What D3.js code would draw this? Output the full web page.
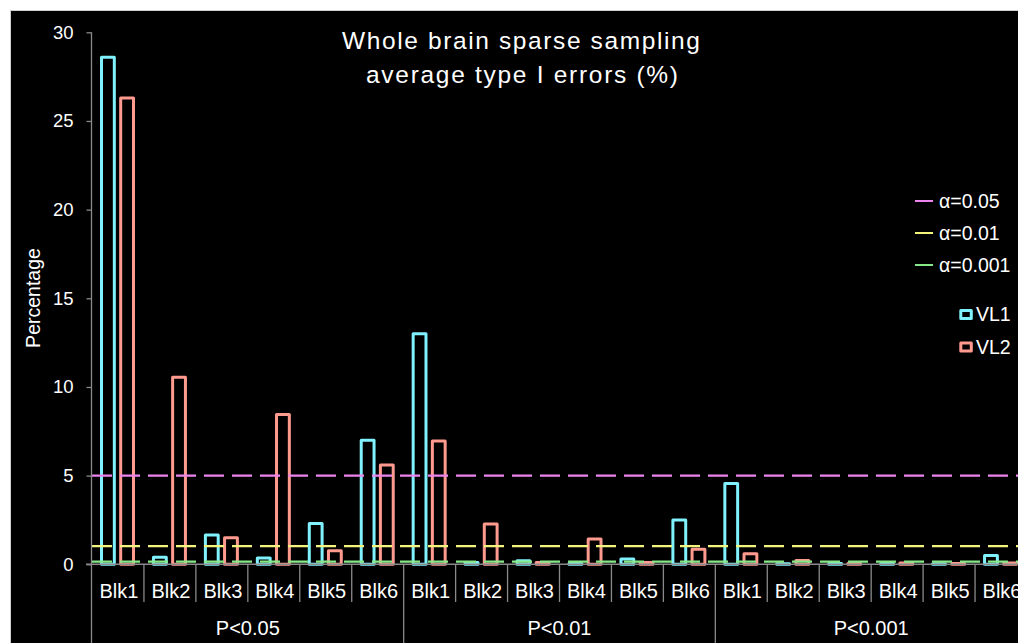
<!DOCTYPE html>
<html>
<head>
<meta charset="utf-8">
<script src="https://cdn.jsdelivr.net/npm/d3@7"></script>
<style>
  html, body { margin: 0; padding: 0; background: #ffffff; }
  svg { display: block; font-family: "Liberation Sans", Arial, sans-serif; }
</style>
</head>
<body>
<svg id="chart" width="1018" height="643"></svg>
<script>
// ---- data ----
const levels = ["P<0.05", "P<0.01", "P<0.001"];
const blocks = ["Blk1", "Blk2", "Blk3", "Blk4", "Blk5", "Blk6"];
const series = ["VL1", "VL2"];
const vl1 = [28.6, 0.4, 1.65, 0.35, 2.3, 7.0, 13.0, 0.1, 0.2, 0.05, 0.3, 2.5, 4.55, 0.03, 0.05, 0.05, 0.03, 0.5];
const vl2 = [26.3, 10.55, 1.5, 8.45, 0.77, 5.6, 6.95, 2.27, 0.1, 1.43, 0.1, 0.85, 0.6, 0.22, 0.05, 0.07, 0.05, 0.08];
const alphaLabels = ["α=0.05", "α=0.01", "α=0.001"];
const alphaValues = [5, 1.03, 0.15];
const yTicks = [0, 5, 10, 15, 20, 25, 30];
const titleLines = ["Whole brain sparse sampling", "average type I errors (%)"];

const seriesColors = { VL1: "#80f2ff", VL2: "#ff9a8e" };
const alphaColors = ["#ee84ee", "#f4f47c", "#86e886"];
const axisColor = "#8a8a8a";

const svg = d3.select("#chart");

// background panel
svg.append("rect").attr("x", 10.5).attr("y", 10.5).attr("width", 1020).attr("height", 640)
  .attr("fill", "#000").attr("stroke", "#cfcfcf").attr("stroke-width", 1);

// categories: each level x block
const cats = [];
levels.forEach(l => blocks.forEach(b => cats.push(l + "|" + b)));
const rows = cats.map((c, i) => ({ cat: c, level: c.split("|")[0], block: c.split("|")[1], VL1: vl1[i], VL2: vl2[i] }));

const x0 = d3.scaleBand().domain(cats).range([92, 1027]).padding(0);
const x1 = d3.scaleBand().domain(series).range([8, 43]).paddingInner(0.175).paddingOuter(0);
const y = d3.scaleLinear().domain([0, 30]).range([564.3, 32.3]);

// bars
const g = svg.append("g");
rows.forEach(r => {
  series.forEach(s => {
    const bx = x0(r.cat) + x1(s);
    g.append("rect")
      .attr("x", bx + 1.5)
      .attr("y", y(r[s]))
      .attr("width", x1.bandwidth() - 3)
      .attr("height", Math.max(0.01, y(0) - y(r[s])))
      .attr("fill", "none")
      .attr("stroke", seriesColors[s])
      .attr("stroke-width", 3)
      .attr("stroke-linejoin", "round");
  });
});

// alpha reference lines
alphaValues.forEach((v, i) => {
  svg.append("line")
    .attr("x1", 92).attr("x2", 1030)
    .attr("y1", y(v)).attr("y2", y(v))
    .attr("stroke", alphaColors[i]).attr("stroke-width", 2.2)
    .attr("stroke-dasharray", "20,8");
});

// y axis
const yAxis = d3.axisLeft(y).tickValues(yTicks).tickSize(5).tickPadding(13);
const ya = svg.append("g").attr("transform", "translate(91.5,0)").call(yAxis);
ya.select(".domain").remove();
ya.selectAll(".tick line").attr("stroke", axisColor).attr("stroke-width", 1.3);
ya.selectAll(".tick text").attr("fill", "#fff").attr("font-size", 18.5)
  .attr("font-family", "Liberation Sans, Arial, sans-serif");
svg.append("line").attr("x1", 91.5).attr("x2", 91.5).attr("y1", y(30)).attr("y2", 643)
  .attr("stroke", axisColor).attr("stroke-width", 1.3);

// x axis line
svg.append("line").attr("x1", 86).attr("x2", 1030).attr("y1", y(0)).attr("y2", y(0))
  .attr("stroke", axisColor).attr("stroke-width", 1.5);

// group separators
cats.forEach((c, i) => {
  const xs = x0(c);
  if (i === 0) return;
  const major = i % blocks.length === 0;
  svg.append("line").attr("x1", xs).attr("x2", xs)
    .attr("y1", y(0)).attr("y2", major ? 643 : 602)
    .attr("stroke", axisColor).attr("stroke-width", 1.3);
});
svg.append("line").attr("x1", 1027).attr("x2", 1027).attr("y1", y(0)).attr("y2", 643)
  .attr("stroke", axisColor).attr("stroke-width", 1.3);

// block labels
rows.forEach(r => {
  svg.append("text")
    .attr("x", x0(r.cat) + x0.bandwidth() / 2 + 1)
    .attr("y", 597.5)
    .attr("text-anchor", "middle")
    .attr("fill", "#fff").attr("font-size", 20)
    .text(r.block);
});
// level labels
levels.forEach(l => {
  const first = x0(l + "|" + blocks[0]);
  const last = x0(l + "|" + blocks[blocks.length - 1]) + x0.bandwidth();
  svg.append("text")
    .attr("x", (first + last) / 2)
    .attr("y", 635)
    .attr("text-anchor", "middle")
    .attr("fill", "#fff").attr("font-size", 20)
    .text(l);
});

// y label
svg.append("text")
  .attr("transform", "translate(40,298) rotate(-90)")
  .attr("text-anchor", "middle")
  .attr("fill", "#fff").attr("font-size", 19.5)
  .text("Percentage");

// title
svg.append("text").attr("x", 521).attr("y", 49).attr("text-anchor", "middle")
  .attr("fill", "#fff").attr("font-size", 24.5)
  .attr("textLength", 358).attr("lengthAdjust", "spacing")
  .text(titleLines[0]);
svg.append("text").attr("x", 522).attr("y", 83).attr("text-anchor", "middle")
  .attr("fill", "#fff").attr("font-size", 24.5)
  .attr("textLength", 312).attr("lengthAdjust", "spacing")
  .text(titleLines[1]);

// legend: alpha lines
alphaLabels.forEach((lab, i) => {
  const ly = 201 + i * 32;
  svg.append("line").attr("x1", 915).attr("x2", 933).attr("y1", ly).attr("y2", ly)
    .attr("stroke", alphaColors[i]).attr("stroke-width", 2);
  svg.append("text").attr("x", 939).attr("y", ly + 6.5)
    .attr("fill", "#fff").attr("font-size", 19.5).text(lab);
});
// legend: series
series.forEach((s, i) => {
  const cy = 314.5 + i * 32.5;
  svg.append("rect").attr("x", 960.8).attr("y", cy - 4).attr("width", 10.5).attr("height", 8)
    .attr("fill", "#000").attr("stroke", seriesColors[s]).attr("stroke-width", 3)
    .attr("stroke-linejoin", "round");
  svg.append("text").attr("x", 976).attr("y", cy + 6.5)
    .attr("fill", "#fff").attr("font-size", 19.5).text(s);
});
</script>
</body>
</html>
